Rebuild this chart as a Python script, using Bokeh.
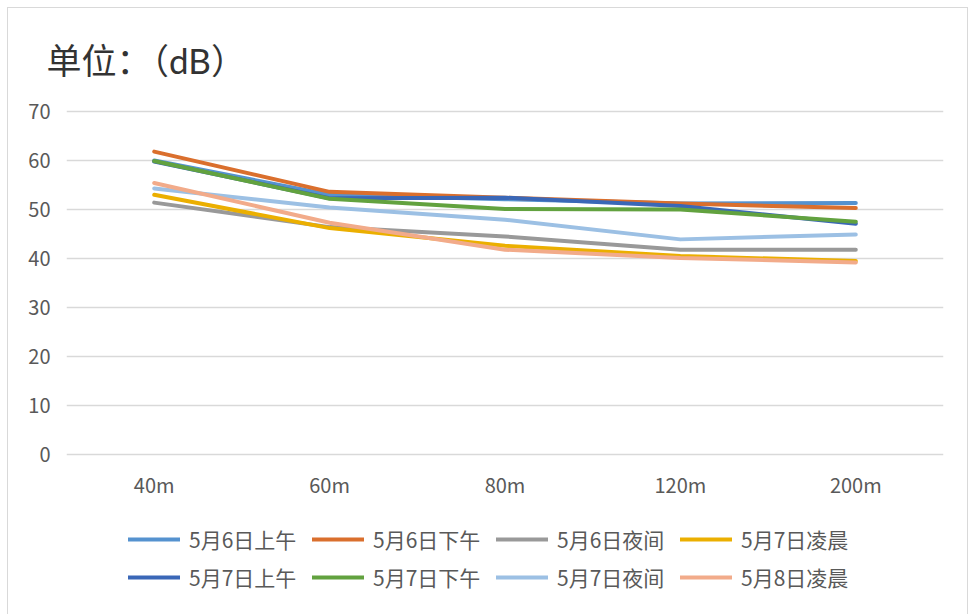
from bokeh.plotting import figure
from bokeh.models import FactorRange, Range1d, FixedTicker, Legend, LegendItem
from bokeh.layouts import column
from bokeh.embed import file_html
from bokeh.resources import INLINE

distances = ["40m", "60m", "80m", "120m", "200m"]

names = ["5月6日上午", "5月6日下午", "5月6日夜间", "5月7日凌晨",
         "5月7日上午", "5月7日下午", "5月7日夜间", "5月8日凌晨"]

s_0506_am = [60.0, 53.0, 52.1, 51.2, 51.3]
s_0506_pm = [61.8, 53.6, 52.4, 51.2, 50.3]
s_0506_night = [51.4, 46.4, 44.5, 41.8, 41.8]
s_0507_dawn = [53.0, 46.2, 42.6, 40.5, 39.5]
s_0507_am = [59.8, 52.3, 52.4, 50.7, 47.1]
s_0507_pm = [59.9, 52.2, 50.1, 50.0, 47.5]
s_0507_night = [54.3, 50.4, 47.9, 43.9, 44.9]
s_0508_dawn = [55.4, 47.3, 41.8, 40.1, 39.2]

series = [s_0506_am, s_0506_pm, s_0506_night, s_0507_dawn,
          s_0507_am, s_0507_pm, s_0507_night, s_0508_dawn]

colors = ["#5592CF", "#DA6F2D", "#999999", "#EBAF00",
          "#3A67B7", "#62A23F", "#9CC0E4", "#F2AB8A"]

y_ticks = [0, 10, 20, 30, 40, 50, 60, 70]

FONT = "Noto Sans CJK SC"
TXT = "#595959"
BORDER = "1px solid #d9d9d9"

# ---- main chart ----
p = figure(width=961, height=499, x_range=FactorRange(*distances, range_padding=0),
           y_range=Range1d(-0.6, 70.6), output_backend="svg", toolbar_location=None,
           min_border_left=58, min_border_right=26, min_border_top=99, min_border_bottom=50,
           margin=(7, 0, 0, 7),
           styles={"border-top": BORDER, "border-left": BORDER, "border-right": BORDER})
p.outline_line_color = None
p.background_fill_color = "white"
p.border_fill_color = "white"

p.title.text = "单位：（dB）"
p.title.text_font = "Lato, Noto Sans CJK SC"
p.title.text_font_size = "35px"
p.title.text_font_style = "normal"
p.title.text_color = "#333333"
p.title.align = "left"
p.title.offset = -20
p.title.standoff = 56

p.xgrid.grid_line_color = None
p.ygrid.grid_line_color = "#d9d9d9"
p.ygrid.grid_line_width = 1.5
p.yaxis.ticker = FixedTicker(ticks=y_ticks)

for ax in (p.xaxis[0], p.yaxis[0]):
    ax.axis_line_color = None
    ax.major_tick_line_color = None
    ax.minor_tick_line_color = None
    ax.major_tick_out = 0
    ax.major_tick_in = 0
    ax.major_label_text_font = FONT
    ax.major_label_text_font_size = "20px"
    ax.major_label_text_color = TXT
p.yaxis.major_label_standoff = 16
p.xaxis.major_label_standoff = 12

for vals, col in zip(series, colors):
    p.line(distances, vals, line_color=col, line_width=4, line_cap="round", line_join="round")

# ---- legend strip ----
q = figure(width=961, height=108, x_range=FactorRange(*distances, range_padding=0),
           y_range=Range1d(0, 1), output_backend="svg", toolbar_location=None,
           x_axis_location=None, y_axis_location=None,
           min_border_left=0, min_border_right=0, min_border_top=0, min_border_bottom=0,
           margin=(0, 0, 0, 7),
           styles={"border-left": BORDER, "border-right": BORDER})
q.outline_line_color = None
q.grid.visible = False
q.background_fill_color = "white"
q.border_fill_color = "white"

leg_renderers = []
for vals, col in zip(series, colors):
    r = q.line(distances, vals, line_color=col, line_width=4, line_cap="round", visible=False)
    leg_renderers.append(r)

items = [LegendItem(label=n, renderers=[r]) for n, r in zip(names, leg_renderers)]
legend = Legend(items=items, orientation="horizontal", nrows=2, location=(62, 22),
                glyph_width=52, glyph_height=20, label_height=20, label_width=115,
                label_standoff=9, spacing=8, padding=0, margin=0,
                label_text_font=FONT, label_text_font_size="21px", label_text_color=TXT,
                border_line_color=None, background_fill_alpha=0, inactive_fill_alpha=0)
q.add_layout(legend, "center")

layout = column(p, q, spacing=0)
open("out.html", "w").write(file_html(layout, INLINE))
